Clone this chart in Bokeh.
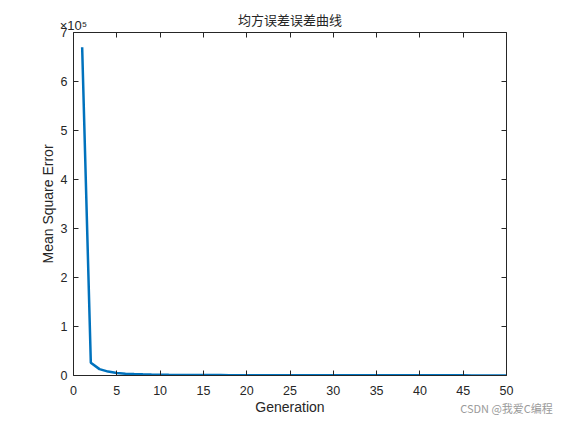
from bokeh.plotting import figure
from bokeh.models import LinearAxis, Range1d, FixedTicker, CustomJSTickFormatter
from bokeh.embed import file_html
from bokeh.resources import INLINE

generation = list(range(1, 51))
mse = [670000, 26000, 13000, 8000, 5200, 3700, 2900, 2300, 1900, 1600,
       1400, 1250, 1120, 1010, 920, 850, 790, 740, 690, 650,
       610, 580, 550, 520, 500, 480, 460, 440, 420, 405,
       390, 375, 362, 350, 340, 330, 320, 311, 302, 294,
       286, 279, 272, 266, 260, 254, 248, 243, 238, 233]
x_ticks = [0, 5, 10, 15, 20, 25, 30, 35, 40, 45, 50]
y_ticks = [0, 100000, 200000, 300000, 400000, 500000, 600000, 700000]
title_text = "均方误差误差曲线"
exp_text = "×10⁵"
watermark = "CSDN @我爱C编程"

FONT = "Liberation Sans"
CJK = "Noto Sans CJK SC"
INK = "#262626"

p = figure(width=556, height=419, output_backend="svg", toolbar_location=None,
           x_range=Range1d(0, 50), y_range=Range1d(0, 700000),
           min_border_left=73, min_border_right=50, min_border_top=32, min_border_bottom=44,
           x_axis_location=None, y_axis_location=None, title=None)
p.grid.visible = False
p.outline_line_color = None

def style(ax, ticks, labels=True):
    ax.ticker = FixedTicker(ticks=ticks)
    ax.major_tick_in = 5
    ax.major_tick_out = 0
    ax.minor_tick_line_color = None
    ax.axis_line_color = INK
    ax.major_tick_line_color = INK
    ax.major_label_text_font = FONT
    ax.major_label_text_font_size = "12.5px"
    ax.major_label_text_color = INK
    if not labels:
        ax.formatter = CustomJSTickFormatter(code="return '';")
        ax.major_label_standoff = 0

def text_only(ax, text, font, size, color, align, standoff):
    ax.ticker = FixedTicker(ticks=[])
    ax.axis_line_color = None
    ax.major_tick_line_color = None
    ax.minor_tick_line_color = None
    ax.major_label_standoff = 0
    ax.axis_label = text
    ax.axis_label_text_font = font
    ax.axis_label_text_font_size = size
    ax.axis_label_text_font_style = "normal"
    ax.axis_label_text_color = color
    ax.axis_label_align = align
    ax.axis_label_standoff = standoff

bx = LinearAxis(axis_label="Generation")
tx = LinearAxis()
ly = LinearAxis(axis_label="Mean Square Error")
ry = LinearAxis()
style(bx, x_ticks)
style(tx, x_ticks, False)
style(ly, y_ticks)
style(ry, y_ticks, False)
ly.formatter = CustomJSTickFormatter(code="return (tick/100000).toFixed(0);")
for ax in (bx, ly):
    ax.axis_label_text_font = FONT
    ax.axis_label_text_font_style = "normal"
    ax.axis_label_text_font_size = "14px"
    ax.axis_label_text_color = INK
bx.major_label_standoff = 10
bx.axis_label_standoff = 1
ly.major_label_standoff = 6
ly.axis_label_standoff = 2

# exponent marker on the top axis, at the frame's left edge
tx.axis_label = exp_text
tx.axis_label_text_font = FONT
tx.axis_label_text_font_size = "13px"
tx.axis_label_text_font_style = "normal"
tx.axis_label_text_color = INK
tx.axis_label_align = "start"
tx.axis_label_standoff = 0

tt = LinearAxis()
text_only(tt, title_text, CJK, "13px", INK, "center", -14)
wx = LinearAxis()
text_only(wx, watermark, CJK, "11px", "#9a9a9a", "end", -18)

p.add_layout(bx, "below")
p.add_layout(wx, "below")
p.add_layout(tx, "above")
p.add_layout(tt, "above")
p.add_layout(ly, "left")
p.add_layout(ry, "right")

p.line(generation, mse, line_color="#0072BD", line_width=2.5)

open("out.html", "w").write(file_html(p, INLINE))
